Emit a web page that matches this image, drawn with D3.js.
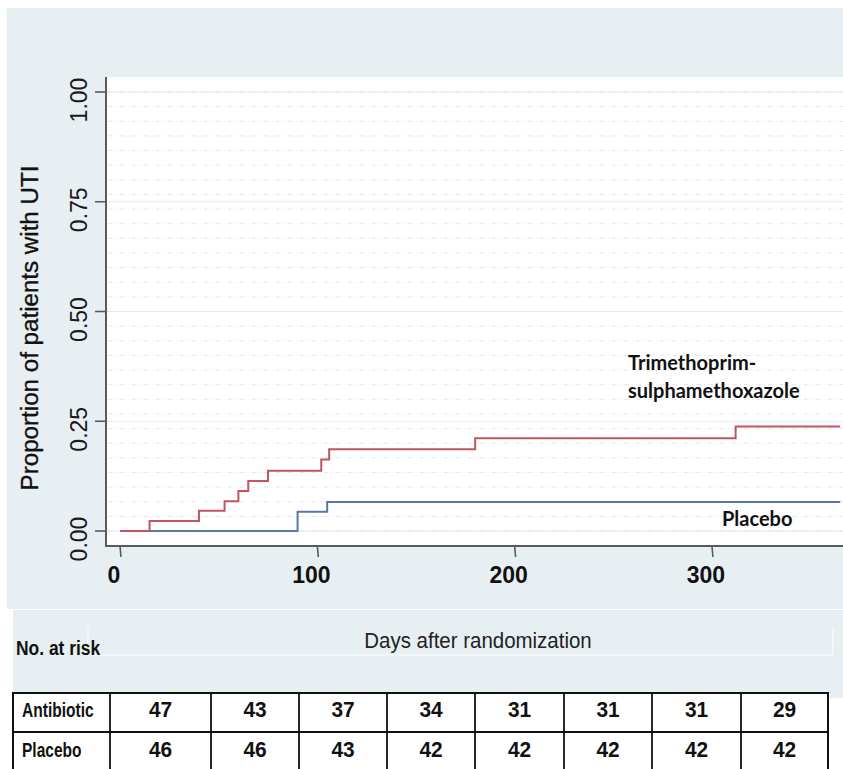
<!DOCTYPE html>
<html>
<head>
<meta charset="utf-8">
<script src="https://cdn.jsdelivr.net/npm/d3@7"></script>
<style>
  html, body { margin: 0; padding: 0; background: #ffffff; }
  svg { display: block; }
</style>
</head>
<body>
<div id="chart"></div>
<script>
// ---------------- data ----------------
const antibioticDays  = [0, 15, 40, 53, 60, 65, 75, 102, 106, 180, 312, 365];
const antibioticProp  = [0, 0.023, 0.046, 0.068, 0.091, 0.114, 0.137, 0.163, 0.186, 0.211, 0.238, 0.238];
const placeboDays     = [0, 90, 105, 365];
const placeboProp     = [0, 0.044, 0.066, 0.066];
const yTickValues     = [0, 0.25, 0.5, 0.75, 1];
const yTickLabels     = ["0.00", "0.25", "0.50", "0.75", "1.00"];
const xTickValues     = [0, 100, 200, 300];
const xTickLabels     = ["0", "100", "200", "300"];
const riskGroups      = ["Antibiotic", "Placebo"];
const antibioticRisk  = [47, 43, 37, 34, 31, 31, 31, 29];
const placeboRisk     = [46, 46, 43, 42, 42, 42, 42, 42];
const seriesLabels    = { antibiotic: ["Trimethoprim-", "sulphamethoxazole"], placebo: ["Placebo"] };
const yTitle = "Proportion of patients with UTI";
const xTitle = "Days after randomization";
const riskTitle = "No. at risk";

// ---------------- layout ----------------
const W = 843, H = 769;
const panelBg = "#e8eff2";
const plot = { left: 106, top: 77, right: 843, bottom: 546 };
const tableTop = 693, tableRowSep = 732, tableBottom = 772;
const colEdges = [13, 110, 211, 299, 387, 475, 564, 652, 741, 828];

const svg = d3.select("#chart").append("svg")
  .attr("width", W).attr("height", H)
  .style("font-family", "'Liberation Sans', Arial, sans-serif");

const x = d3.scaleLinear().domain([0, 365]).range([120, 840.2]);
const y = d3.scaleLinear().domain([0, 1]).range([531, 92]);

// panels
svg.append("rect").attr("x", 7).attr("y", 8).attr("width", W - 7).attr("height", 601).attr("fill", panelBg);
svg.append("line").attr("x1", 7).attr("x2", W).attr("y1", 11).attr("y2", 11).attr("stroke", "#e1eaee").attr("stroke-width", 1);
svg.append("rect").attr("x", 13).attr("y", 610).attr("width", W - 13).attr("height", 88).attr("fill", panelBg);
svg.append("path").attr("d", "M88,627 V655 H833 V627")
  .attr("fill", "none").attr("stroke", "#fbfdfd").attr("stroke-width", 1);

// plot area
svg.append("rect").attr("x", plot.left).attr("y", plot.top)
  .attr("width", plot.right - plot.left).attr("height", plot.bottom - plot.top).attr("fill", "#ffffff");

// fine dotted background rows
const fineRows = d3.range(-2, 33).map(k => 1 - k / 30)
  .filter(v => y(v) > plot.top + 1 && y(v) < plot.bottom - 2);
svg.append("g").selectAll("line").data(fineRows).join("line")
  .attr("x1", plot.left + 2).attr("x2", plot.right)
  .attr("y1", d => y(d)).attr("y2", d => y(d))
  .attr("stroke", "#e3e8eb").attr("stroke-width", 1)
  .attr("stroke-dasharray", "5,3,1,3");

// major gridlines
svg.append("g").selectAll("line").data(yTickValues).join("line")
  .attr("x1", plot.left).attr("x2", plot.right)
  .attr("y1", d => y(d)).attr("y2", d => y(d))
  .attr("stroke", "#e2eaee").attr("stroke-width", 1.2);

// axes
const axisColor = "#5a5a5a";
svg.append("line").attr("x1", plot.left).attr("x2", plot.left)
  .attr("y1", plot.top).attr("y2", plot.bottom + 1)
  .attr("stroke", axisColor).attr("stroke-width", 2);
svg.append("line").attr("x1", plot.left - 1).attr("x2", plot.right)
  .attr("y1", plot.bottom).attr("y2", plot.bottom)
  .attr("stroke", axisColor).attr("stroke-width", 2);

// y ticks
svg.append("g").selectAll("line").data(yTickValues).join("line")
  .attr("x1", plot.left - 11).attr("x2", plot.left)
  .attr("y1", d => y(d)).attr("y2", d => y(d))
  .attr("stroke", axisColor).attr("stroke-width", 1.6);
svg.append("g").selectAll("text").data(yTickValues).join("text")
  .attr("transform", d => `translate(87,${y(d) + 8}) rotate(-90)`)
  .attr("text-anchor", "middle")
  .attr("font-size", 23).attr("fill", "#1a1a1a")
  .text((d, i) => yTickLabels[i]);

// x ticks
svg.append("g").selectAll("line").data(xTickValues).join("line")
  .attr("x1", d => x(d)).attr("x2", d => x(d) + 1)
  .attr("y1", plot.bottom).attr("y2", plot.bottom + 11)
  .attr("stroke", axisColor).attr("stroke-width", 1.6);
svg.append("g").selectAll("text").data(xTickValues).join("text")
  .attr("x", d => x(d) - 6).attr("y", 583)
  .attr("text-anchor", "middle")
  .attr("font-size", 23).attr("font-weight", "bold").attr("fill", "#111")
  .text((d, i) => xTickLabels[i]);

// y title
svg.append("text")
  .attr("transform", "translate(38,328) rotate(-90) scale(1.05,1)")
  .attr("text-anchor", "middle")
  .attr("font-size", 23).attr("fill", "#111")
  .attr("stroke", "#111").attr("stroke-width", 0.35)
  .text(yTitle);

// curves
const line = d3.line().x(d => x(d[0])).y(d => y(d[1])).curve(d3.curveStepAfter);
const placeboPts = placeboDays.map((d, i) => [d, placeboProp[i]]);
const antibioticPts = antibioticDays.map((d, i) => [d, antibioticProp[i]]);
svg.append("path").attr("d", line(placeboPts))
  .attr("fill", "none").attr("stroke", "#5578a8").attr("stroke-width", 2);
svg.append("path").attr("d", line(antibioticPts))
  .attr("fill", "none").attr("stroke", "#c05560").attr("stroke-width", 2);

// curve labels
const labelFont = "Lato, 'Open Sans', sans-serif";
svg.append("g").selectAll("text").data(seriesLabels.antibiotic).join("text")
  .attr("x", 628).attr("y", (d, i) => 370 + i * 28)
  .attr("font-family", labelFont).attr("font-weight", "bold")
  .attr("font-size", 20).attr("fill", "#111")
  .text(d => d);
svg.append("text").attr("x", 722).attr("y", 526)
  .attr("font-family", labelFont).attr("font-weight", "bold")
  .attr("font-size", 20).attr("fill", "#111")
  .text(seriesLabels.placebo[0]);

// helper: horizontally condensed text
function condensed(parent, tx, ty, sx, txt, opts) {
  const t = parent.append("text")
    .attr("transform", `translate(${tx},${ty}) scale(${sx},1)`)
    .attr("font-size", opts.size).attr("fill", opts.fill || "#111")
    .attr("text-anchor", opts.anchor || "start")
    .text(txt);
  if (opts.bold) t.attr("font-weight", "bold");
  return t;
}

// risk table headers
condensed(svg, 16, 655, 0.83, riskTitle, { size: 21, bold: true });
condensed(svg, 478, 648, 0.93, xTitle, { size: 22, anchor: "middle", fill: "#222" });

// table
const tbl = svg.append("g");
tbl.append("rect").attr("x", colEdges[0]).attr("y", tableTop)
  .attr("width", colEdges[colEdges.length - 1] - colEdges[0]).attr("height", tableBottom - tableTop)
  .attr("fill", "#ffffff").attr("stroke", "#111").attr("stroke-width", 2);
tbl.append("line").attr("x1", colEdges[0]).attr("x2", colEdges[colEdges.length - 1])
  .attr("y1", tableRowSep).attr("y2", tableRowSep)
  .attr("stroke", "#111").attr("stroke-width", 2);
tbl.selectAll("line.v").data(colEdges.slice(1, -1)).join("line").attr("class", "v")
  .attr("x1", d => d).attr("x2", d => d)
  .attr("y1", tableTop).attr("y2", tableBottom)
  .attr("stroke", "#111").attr("stroke-width", 1.8);

const rowsData = [antibioticRisk, placeboRisk];
const rowBaselines = [717, 757];
riskGroups.forEach((g, r) => {
  condensed(tbl, 22, rowBaselines[r], 0.74, g, { size: 21, bold: true });
  rowsData[r].forEach((v, i) => {
    condensed(tbl, (colEdges[i + 1] + colEdges[i + 2]) / 2, rowBaselines[r], 0.95, v,
      { size: 22, bold: true, anchor: "middle" });
  });
});
</script>
</body>
</html>
